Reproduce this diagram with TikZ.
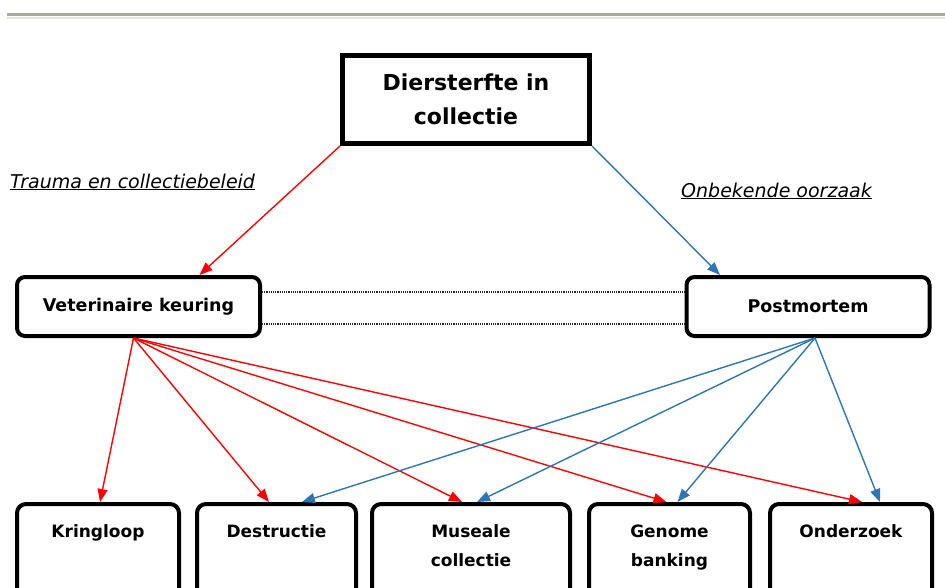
\documentclass[tikz,border=0pt]{standalone}
\usepackage{fontspec}
\setmainfont{DejaVu Sans}
\usepackage{tikz}
\usetikzlibrary{arrows.meta}
\usetikzlibrary{positioning}
\tikzset{>={Triangle[length=13pt,width=10pt]}}
\definecolor{redline}{RGB}{255,0,0}
\definecolor{blueline}{RGB}{46,117,182}
\definecolor{rulegray}{RGB}{172,170,156}
\definecolor{rulelight}{RGB}{232,230,214}

\begin{document}
\begin{tikzpicture}[x=1pt, y=-1pt,
    topbox/.style={draw, line width=5pt, minimum width=247pt, minimum height=88pt, align=center, font=\fontsize{22}{34}\selectfont\bfseries},
    midbox/.style={draw, line width=4pt, rounded corners=8pt, minimum width=243pt, minimum height=59pt, font=\fontsize{17.5}{20}\selectfont\bfseries},
    leafbox/.style={draw, line width=4pt, rounded corners=9pt, anchor=north, minimum height=110pt},
    leaftext/.style={align=center, font=\fontsize{17}{29}\selectfont\bfseries},
    caselabel/.style={inner sep=0pt, anchor=base west, font=\fontsize{19}{20}\selectfont\itshape},
    redarrow/.style={->, redline, line width=1.4pt},
    bluearrow/.style={->, blueline, line width=1.4pt},
    dotline/.style={black!85, line width=1.2pt, dash pattern=on 1.2pt off 1pt}]
    \useasboundingbox (0,0) rectangle (945,587);
    \clip (0,0) rectangle (945,587);
    % rule at the top of the page
    \draw[rulelight, line width=2pt] (7,17.5) -- (945,17.5);
    \draw[rulegray, line width=3pt] (7,14) -- (945,14);

    \node[topbox] (top) at (466,99.5) {Diersterfte in\\collectie};
    \node[midbox] (vk) at (138.5,306.5) {Veterinaire keuring};
    \node[midbox] (pm) at (808,306.5) {Postmortem};

    \node[caselabel] (traumaLbl) at (10,188) {\underline{Trauma en collectiebeleid}};
    \node[caselabel] (onbekLbl) at (681,197) {\underline{Onbekende oorzaak}};

    % bottom row, cut off by the page edge
    \node[leafbox, minimum width=162pt] (kring) at (98,502) {};
    \node[leafbox, minimum width=159pt] (destr) at (276.5,502) {};
    \node[leafbox, minimum width=198pt] (mus) at (471,502) {};
    \node[leafbox, minimum width=161pt] (gen) at (669.5,502) {};
    \node[leafbox, minimum width=162pt] (onder) at (851,502) {};
    \node[leaftext, below=19pt of kring.north] (kringT) {Kringloop};
    \node[leaftext, below=19pt of destr.north] (destrT) {Destructie};
    \node[leaftext, below=19pt of mus.north] (musT) {Museale\\collectie};
    \node[leaftext, below=19pt of gen.north] (genT) {Genome\\banking};
    \node[leaftext, below=19pt of onder.north] (onderT) {Onderzoek};

    \draw[redarrow] (top.south west) -- ([xshift=61pt]vk.north);
    \draw[bluearrow] (top.south east) -- ([xshift=-88pt]pm.north);

    \draw[dotline] ([yshift=14.5pt]vk.east) -- ([yshift=14.5pt]pm.west);
    \draw[dotline] ([yshift=-17.5pt]vk.east) -- ([yshift=-17.5pt]pm.west);

    \foreach \leaf/\dx in {kring/2, destr/-7.5, mus/-9, gen/-3, onder/11}
        \draw[redarrow] ([xshift=-5pt]vk.south) -- ([xshift=\dx pt]\leaf.north);
    \foreach \leaf/\dx in {destr/25.5, mus/6, gen/8, onder/29}
        \draw[bluearrow] ([xshift=7pt]pm.south) -- ([xshift=\dx pt]\leaf.north);
\end{tikzpicture}
\end{document}
